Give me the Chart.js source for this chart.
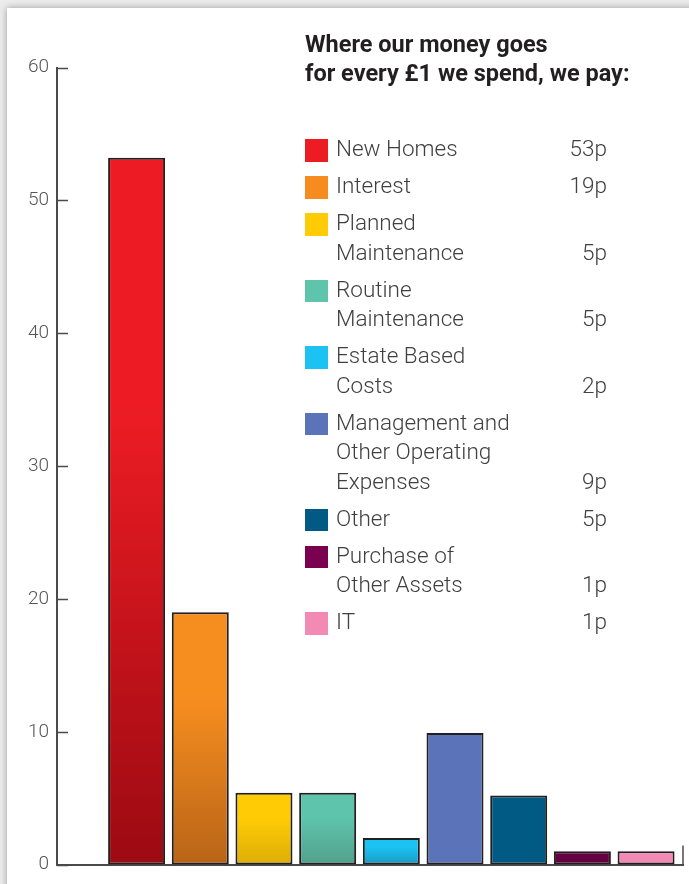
<!DOCTYPE html>
<html>
<head>
<meta charset="utf-8">
<script src="https://cdn.jsdelivr.net/npm/chart.js@4"></script>
<style>
  html, body { margin: 0; padding: 0; }
  body { width: 689px; height: 884px; background: #ececec; position: relative; overflow: hidden; font-family: Roboto, "Noto Sans", sans-serif; }
  .card { position: absolute; left: 7px; top: 8px; width: 720px; height: 900px; background: #fff; box-shadow: 0 0 7px rgba(0,0,0,0.35); }
  #wrap { position: absolute; left: 0; top: 0; width: 689px; height: 884px; }
  .title { position: absolute; left: 305px; top: 30px; font-weight: 700; font-size: 23.5px; line-height: 29px; color: #231f20; white-space: nowrap; }
  #legend { position: absolute; left: 305px; top: 134px; width: 302px; color: #404040; font-weight: 300; font-size: 22.5px; line-height: 29.5px; }
  .item { position: relative; padding-left: 31px; margin-bottom: 7.5px; }
  .sw { position: absolute; left: 0; top: 5px; width: 22.5px; height: 22.5px; }
  .val { position: absolute; right: 0; bottom: 0; }
</style>
</head>
<body>
<div class="card"></div>
<div id="wrap"><canvas id="grafico" width="689" height="884"></canvas></div>
<div class="title">Where our money goes<br>for every £1 we spend, we pay:</div>
<div id="legend"></div>
<script>
// categorias e valores
const categorias = ['New Homes', 'Interest', 'Planned Maintenance', 'Routine Maintenance', 'Estate Based Costs',
  'Management and Other Operating Expenses', 'Other', 'Purchase of Other Assets', 'IT'];
const linhasLegenda = [['New Homes'], ['Interest'], ['Planned', 'Maintenance'], ['Routine', 'Maintenance'],
  ['Estate Based', 'Costs'], ['Management and', 'Other Operating', 'Expenses'], ['Other'], ['Purchase of', 'Other Assets'], ['IT']];
const valores = [53.2, 19, 5.4, 5.4, 2, 9.9, 5.2, 1, 1];
const rotulosLegenda = ['53p', '19p', '5p', '5p', '2p', '9p', '5p', '1p', '1p'];
const ticksY = [0, 10, 20, 30, 40, 50, 60];

const coresTopo = ['#ed1c24', '#f68d1f', '#ffcb05', '#5ec4ac', '#1bc2f2', '#5b73b8', '#005a84', '#660042', '#f28ab4'];
const coresBase = ['#9c0a12', '#b86418', '#dcae08', '#52a08c', '#1a9ac2', '#5b73b8', '#005a84', '#660042', '#f28ab4'];
const coresLegenda = ['#ed1c24', '#f68b1f', '#ffcb05', '#5ec4ac', '#1bc2f2', '#5b73b8', '#005a84', '#7a0050', '#f28ab4'];

// legenda em HTML
const legenda = document.getElementById('legend');
linhasLegenda.forEach((linhas, i) => {
  const item = document.createElement('div');
  item.className = 'item';
  item.innerHTML = `<span class="sw" style="background:${coresLegenda[i]}"></span>${linhas.join('<br>')}<span class="val">${rotulosLegenda[i]}</span>`;
  legenda.appendChild(item);
});

function corBarra(context) {
  const i = context.dataIndex;
  const chart = context.chart;
  if (!chart.chartArea) return coresTopo[i];
  const y = chart.scales.y;
  const topo = y.getPixelForValue(valores[i]);
  const base = y.getPixelForValue(0);
  const g = chart.ctx.createLinearGradient(0, topo, 0, base);
  g.addColorStop(0, coresTopo[i]);
  g.addColorStop(0.35, coresTopo[i]);
  g.addColorStop(1, coresBase[i]);
  return g;
}

// marcas do eixo para dentro + traço no final do eixo x
const marcasEixo = {
  id: 'marcasEixo',
  afterDraw(chart) {
    const ctx = chart.ctx;
    const y = chart.scales.y;
    const area = chart.chartArea;
    ctx.save();
    ctx.strokeStyle = '#4a4a4a';
    ctx.lineWidth = 1.5;
    ticksY.forEach(t => {
      const py = Math.round(y.getPixelForValue(t)) + 0.5;
      ctx.beginPath();
      ctx.moveTo(area.left, py);
      ctx.lineTo(area.left + 11, py);
      ctx.stroke();
    });
    ctx.beginPath();
    ctx.moveTo(area.right, area.bottom);
    ctx.lineTo(area.right, area.bottom - 19);
    ctx.stroke();
    ctx.restore();
  }
};

new Chart(document.getElementById('grafico').getContext('2d'), {
  type: 'bar',
  data: {
    datasets: [{
      label: 'Where our money goes',
      data: valores.map((v, i) => ({ x: i, y: v })),
      backgroundColor: corBarra,
      borderColor: '#231f20',
      borderWidth: 2,
      borderSkipped: false,
      categoryPercentage: 1,
      barPercentage: 0.895,
    }]
  },
  options: {
    responsive: false,
    animation: false,
    layout: { padding: { top: 67.5, right: 6, bottom: 11, left: 0 } },
    plugins: { legend: { display: false }, tooltip: { enabled: false } },
    scales: {
      x: {
        type: 'linear',
        min: -1.25,
        max: 8.58,
        offset: false,
        grid: { display: false },
        ticks: { display: false },
        border: { display: true, color: '#4a4a4a', width: 2 },
      },
      y: {
        min: 0,
        max: 60,
        afterFit(scale) { scale.width = 57; },
        grid: { display: false, drawTicks: false },
        border: { display: true, color: '#4a4a4a', width: 2 },
        ticks: {
          stepSize: 10,
          padding: 8,
          color: '#555',
          font: { family: 'Roboto', weight: '300', size: 19 },
        },
      },
    },
  },
  plugins: [marcasEixo],
});
</script>
</body>
</html>
